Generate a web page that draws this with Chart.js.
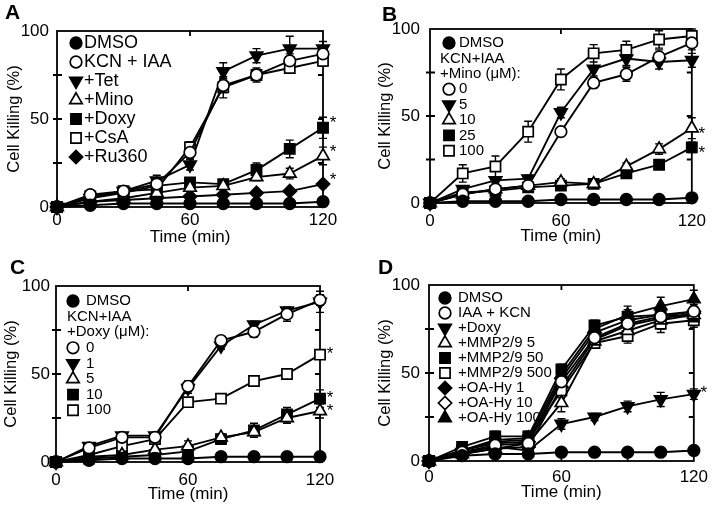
<!DOCTYPE html>
<html>
<head>
<meta charset="utf-8">
<script src="https://cdn.jsdelivr.net/npm/chart.js@4/dist/chart.umd.min.js"></script>
<style>
  body { margin: 0; background: #fff; }
  #wrap { position: relative; width: 714px; height: 511px; }
  #wrap canvas { position: absolute; }
</style>
</head>
<body>
<div id="wrap">
  <canvas id="cA" width="357" height="255" style="left:0;top:0"></canvas>
  <canvas id="cB" width="357" height="255" style="left:357px;top:0"></canvas>
  <canvas id="cC" width="357" height="256" style="left:0;top:255px"></canvas>
  <canvas id="cD" width="357" height="256" style="left:357px;top:255px"></canvas>
</div>
<script>
// time points (min)
const times = [0, 15, 30, 45, 60, 75, 90, 105, 120];
const xTicks = [0, 60, 120];
const yTicks = [0, 50, 100];

// A - inhibitors
const aNames = ['DMSO', 'KCN + IAA', '+Tet', '+Mino', '+Doxy', '+CsA', '+Ru360'];
const aDMSO  = [0, 1, 2, 2, 2, 2, 2, 2, 3];
const aKCN   = [0, 7, 9, 13, 31, 69, 75, 83, 87];
const aTet   = [0, 5, 9, 15, 24, 77, 86, 90, 90];
const aMino  = [0, 3, 5, 8, 11, 12, 17, 19, 29];
const aDoxy  = [0, 5, 8, 12, 14, 13, 21, 33, 45];
const aCsA   = [0, 6, 9, 10, 34, 68, 75, 79, 83];
const aRu360 = [0, 3, 4, 5, 6, 7, 8, 9, 13];
const aDMSOe  = [0, 1, 1, 1, 1, 1, 1, 1, 1];
const aKCNe   = [0, 1, 1, 2, 3, 4, 3, 4, 4];
const aTete   = [0, 2, 2, 3, 3, 5, 4, 7, 4];
const aMinoe  = [0, 1, 1, 1, 2, 1, 2, 3, 5];
const aDoxye  = [0, 1, 1, 2, 2, 1, 4, 5, 6];
const aCsAe   = [0, 1, 1, 2, 3, 6, 4, 3, 3];
const aRu360e = [0, 1, 1, 1, 1, 1, 1, 1, 2];

// B - minocycline dose
const bHead = ['KCN+IAA', '+Mino (\u03BCM):'];
const bNames = ['DMSO', '0', '5', '10', '25', '100'];
const bDMSO = [0, 1, 1, 1, 2, 2, 2, 2, 3];
const b0    = [0, 5, 8, 10, 41, 69, 74, 84, 92];
const b5    = [0, 8, 13, 14, 52, 77, 83, 81, 82];
const b10   = [0, 5, 8, 10, 12, 11, 21, 31, 43];
const b25   = [0, 6, 7, 9, 10, 11, 17, 22, 32];
const b100  = [0, 17, 21, 41, 71, 86, 88, 94, 96];
const bDMSOe = [0, 1, 1, 1, 1, 1, 1, 1, 1];
const b0e    = [0, 1, 2, 2, 2, 3, 4, 4, 4];
const b5e    = [0, 2, 2, 2, 3, 4, 4, 4, 4];
const b10e   = [0, 1, 1, 1, 2, 1, 2, 3, 6];
const b25e   = [0, 1, 1, 1, 1, 1, 1, 2, 3];
const b100e  = [0, 5, 6, 6, 6, 5, 5, 5, 4];

// C - doxycycline dose
const cHead = ['KCN+IAA', '+Doxy (\u03BCM):'];
const cNames = ['DMSO', '0', '1', '5', '10', '100'];
const cDMSO = [0, 1, 2, 2, 2, 3, 3, 3, 3];
const c0    = [0, 8, 14, 14, 43, 69, 74, 84, 92];
const c1    = [0, 9, 15, 15, 42, 66, 78, 86, 91];
const c5    = [0, 3, 4, 7, 9, 14, 17, 25, 29];
const c10   = [0, 2, 3, 4, 6, 13, 18, 27, 36];
const c100  = [0, 4, 9, 13, 34, 36, 46, 50, 61];
const cDMSOe = [0, 1, 1, 1, 1, 1, 1, 1, 1];
const c0e    = [0, 1, 1, 2, 3, 2, 3, 4, 3];
const c1e    = [0, 1, 1, 1, 3, 2, 2, 2, 6];
const c5e    = [0, 1, 1, 1, 3, 2, 2, 3, 4];
const c10e   = [0, 1, 1, 1, 2, 2, 4, 4, 5];
const c100e  = [0, 1, 1, 2, 2, 2, 2, 3, 2];

// D - MMP / OA-Hy inhibitors
const dNames = ['DMSO', 'IAA + KCN', '+Doxy', '+MMP2/9 5', '+MMP2/9 50', '+MMP2/9 500', '+OA-Hy 1', '+OA-Hy 10', '+OA-Hy 100'];
const dDMSO   = [0, 3, 4, 4, 5, 5, 5, 5, 6];
const dKCN    = [0, 5, 9, 10, 45, 70, 78, 82, 85];
const dDoxy   = [0, 5, 8, 6, 21, 25, 31, 35, 38];
const dMMP5   = [0, 4, 7, 10, 33, 68, 74, 80, 83];
const dMMP50  = [0, 8, 14, 14, 52, 77, 82, 83, 82];
const dMMP500 = [0, 6, 11, 12, 40, 67, 71, 78, 80];
const dOA1    = [0, 6, 10, 11, 47, 73, 80, 83, 85];
const dOA10   = [0, 4, 7, 8, 42, 69, 77, 81, 84];
const dOA100  = [0, 6, 12, 13, 49, 75, 83, 88, 92];
const dDMSOe   = [0, 1, 1, 1, 1, 1, 1, 1, 1];
const dKCNe    = [0, 2, 3, 3, 3, 3, 4, 5, 4];
const dDoxye   = [0, 2, 2, 2, 3, 2, 3, 4, 3];
const dMMP5e   = [0, 2, 3, 3, 5, 3, 4, 5, 4];
const dMMP50e  = [0, 2, 3, 3, 3, 3, 4, 4, 4];
const dMMP500e = [0, 2, 3, 3, 4, 3, 4, 5, 4];
const dOA1e    = [0, 2, 2, 3, 3, 3, 4, 4, 4];
const dOA10e   = [0, 2, 2, 3, 3, 3, 4, 4, 4];
const dOA100e  = [0, 2, 2, 3, 3, 3, 5, 5, 5];

const ink = '#000';
Chart.defaults.font.family = '"Liberation Sans", Arial, sans-serif';
Chart.defaults.color = ink;

const SHAPES = {
  circle:   { style: 'circle',   rot: 0,   r: 5.8, fill: ink },
  ocircle:  { style: 'circle',   rot: 0,   r: 5.8, fill: '#fff' },
  tri:      { style: 'triangle', rot: 0,   r: 7.2, fill: ink },
  otri:     { style: 'triangle', rot: 0,   r: 7.2, fill: '#fff' },
  dtri:     { style: 'triangle', rot: 180, r: 7.2, fill: ink },
  square:   { style: 'rect',     rot: 0,   r: 7.2, fill: ink },
  osquare:  { style: 'rect',     rot: 0,   r: 7.2, fill: '#fff' },
  diamond:  { style: 'rectRot',  rot: 0,   r: 6.6, fill: ink },
  odiamond: { style: 'rectRot',  rot: 0,   r: 6.6, fill: '#fff' }
};

function series(label, values, err, shape, star) {
  const s = SHAPES[shape];
  return {
    label: label,
    data: times.map((t, i) => ({ x: t, y: values[i] })),
    err: err,
    star: !!star,
    borderColor: ink,
    borderWidth: 1.9,
    backgroundColor: s.fill,
    pointStyle: s.style,
    pointRotation: s.rot,
    pointRadius: s.r,
    pointHoverRadius: s.r,
    pointBackgroundColor: s.fill,
    pointBorderColor: ink,
    pointBorderWidth: 1.7,
    tension: 0,
    clip: false
  };
}

// frame, inward ticks, error bars, asterisks, legend and panel letter
const panelPlugin = {
  id: 'panel',
  beforeDatasetsDraw(chart, args, o) {
    const { ctx, chartArea: a, scales: { x, y } } = chart;
    ctx.save();
    ctx.strokeStyle = ink;
    ctx.lineWidth = 1.8;
    ctx.strokeRect(a.left, a.top, a.right - a.left, a.bottom - a.top);
    ctx.beginPath();
    [25, 50, 75].forEach(v => {
      const py = y.getPixelForValue(v);
      ctx.moveTo(a.left - 4, py); ctx.lineTo(a.left + 5, py);
      ctx.moveTo(a.right - 5, py); ctx.lineTo(a.right, py);
    });
    const px60 = x.getPixelForValue(60);
    ctx.moveTo(px60, a.top); ctx.lineTo(px60, a.top + 5);
    [30, 60, 90].forEach(t => {
      const px = x.getPixelForValue(t);
      ctx.moveTo(px, a.bottom); ctx.lineTo(px, a.bottom - 5);
    });
    ctx.stroke();

    // error bars
    ctx.lineWidth = 1.4;
    ctx.beginPath();
    chart.data.datasets.forEach(ds => {
      if (!ds.err) return;
      ds.data.forEach((p, i) => {
        const e = ds.err[i];
        if (!e) return;
        const px = x.getPixelForValue(p.x);
        const hi = y.getPixelForValue(p.y + e);
        const lo = y.getPixelForValue(Math.max(0, p.y - e));
        ctx.moveTo(px, lo); ctx.lineTo(px, hi);
        ctx.moveTo(px - 4, hi); ctx.lineTo(px + 4, hi);
        ctx.moveTo(px - 4, lo); ctx.lineTo(px + 4, lo);
      });
    });
    ctx.stroke();
    ctx.restore();
  },
  afterDraw(chart, args, o) {
    const { ctx, scales: { x, y } } = chart;
    const ds = chart.data.datasets;
    ctx.save();
    ctx.fillStyle = ink;

    // asterisks beside last point
    ctx.font = '17px "Liberation Sans", Arial, sans-serif';
    ctx.textAlign = 'center';
    ctx.textBaseline = 'middle';
    ds.forEach(d => {
      if (!d.star) return;
      const p = d.data[d.data.length - 1];
      ctx.fillText('*', x.getPixelForValue(p.x) + 10, y.getPixelForValue(p.y) + o.starDy);
    });

    // legend
    const L = o.legend;
    ctx.font = L.size + 'px "Liberation Sans", Arial, sans-serif';
    ctx.textAlign = 'left';
    L.rows.forEach((row, k) => {
      const ry = L.y0 + k * L.dy;
      if (typeof row === 'string') {
        ctx.fillStyle = ink;
        ctx.fillText(row, L.headX, ry);
        return;
      }
      const d = ds[row];
      ctx.fillStyle = d.pointBackgroundColor;
      ctx.strokeStyle = ink;
      ctx.lineWidth = 1.7;
      Chart.helpers.drawPoint(ctx, {
        pointStyle: d.pointStyle, rotation: d.pointRotation,
        radius: d.pointRadius, borderWidth: 1.7
      }, L.markX, ry);
      ctx.fillStyle = ink;
      ctx.fillText(d.label, L.textX, ry);
    });

    // panel letter
    ctx.font = 'bold 21px "Liberation Sans", Arial, sans-serif';
    ctx.textBaseline = 'alphabetic';
    ctx.fillText(o.letter, o.letterX, o.letterY);
    ctx.restore();
  }
};

function makeChart(id, datasets, g) {
  const W = 357, H = document.getElementById(id).height;
  return new Chart(document.getElementById(id), {
    type: 'line',
    data: { datasets: datasets },
    plugins: [panelPlugin],
    options: {
      responsive: false,
      animation: false,
      events: [],
      layout: { padding: { left: 0, top: g.top, right: W - g.right, bottom: 0 } },
      scales: {
        x: {
          type: 'linear', min: 0, max: 120,
          afterFit: s => { s.height = H - g.bottom; },
          afterBuildTicks: s => { s.ticks = xTicks.map(v => ({ value: v })); },
          grid: { display: false, drawTicks: false },
          border: { display: false },
          ticks: { padding: g.xPad, font: { size: 17 }, color: ink },
          title: { display: true, text: 'Time (min)', font: { size: 17 }, color: ink,
                   padding: { top: 0, bottom: g.xTitle } }
        },
        y: {
          type: 'linear', min: 0, max: 100,
          afterFit: s => { s.width = g.left; },
          afterBuildTicks: s => { s.ticks = yTicks.map(v => ({ value: v })); },
          grid: { display: false, drawTicks: false },
          border: { display: false },
          ticks: { padding: g.yPad, font: { size: 17 }, color: ink },
          title: { display: true, text: 'Cell Killing (%)', font: { size: 16.5 }, color: ink,
                   padding: { top: g.yTitle, bottom: 0 } }
        }
      },
      plugins: {
        legend: { display: false },
        tooltip: { enabled: false },
        panel: g.panel
      }
    }
  });
}

makeChart('cA', [
  series(aNames[0], aDMSO, aDMSOe, 'circle'),
  series(aNames[1], aKCN, aKCNe, 'ocircle'),
  series(aNames[2], aTet, aTete, 'dtri'),
  series(aNames[3], aMino, aMinoe, 'otri', true),
  series(aNames[4], aDoxy, aDoxye, 'square', true),
  series(aNames[5], aCsA, aCsAe, 'osquare'),
  series(aNames[6], aRu360, aRu360e, 'diamond', true)
], {
  left: 57, right: 323, top: 31, bottom: 207, xPad: 3, yPad: 8, xTitle: 7, yTitle: 5,
  panel: {
    letter: 'A', letterX: 5, letterY: 19, starDy: -4,
    legend: { markX: 76, textX: 84, headX: 70, y0: 43, dy: 19, size: 18, rows: [0, 1, 2, 3, 4, 5, 6] }
  }
});

makeChart('cB', [
  series(bNames[0], bDMSO, bDMSOe, 'circle'),
  series(bNames[1], b0, b0e, 'ocircle'),
  series(bNames[2], b5, b5e, 'dtri'),
  series(bNames[3], b10, b10e, 'otri', true),
  series(bNames[4], b25, b25e, 'square', true),
  series(bNames[5], b100, b100e, 'osquare')
], {
  left: 73, right: 339, top: 29, bottom: 203, xPad: 8, yPad: 10, xTitle: 8, yTitle: 19,
  panel: {
    letter: 'B', letterX: 25, letterY: 21, starDy: 6,
    legend: { markX: 92, textX: 102, headX: 83, y0: 43, dy: 15.4, size: 15,
              rows: [0, bHead[0], bHead[1], 1, 2, 3, 4, 5] }
  }
});

makeChart('cC', [
  series(cNames[0], cDMSO, cDMSOe, 'circle'),
  series(cNames[1], c0, c0e, 'ocircle'),
  series(cNames[2], c1, c1e, 'dtri'),
  series(cNames[3], c5, c5e, 'otri', true),
  series(cNames[4], c10, c10e, 'square', true),
  series(cNames[5], c100, c100e, 'osquare', true)
], {
  left: 56, right: 320, top: 31, bottom: 207, xPad: 8, yPad: 6, xTitle: 6, yTitle: 2,
  panel: {
    letter: 'C', letterX: 10, letterY: 19, starDy: 0,
    legend: { markX: 73, textX: 86, headX: 67, y0: 46, dy: 15.6, size: 15,
              rows: [0, cHead[0], cHead[1], 1, 2, 3, 4, 5] }
  }
});

makeChart('cD', [
  series(dNames[0], dDMSO, dDMSOe, 'circle'),
  series(dNames[1], dKCN, dKCNe, 'ocircle'),
  series(dNames[2], dDoxy, dDoxye, 'dtri', true),
  series(dNames[3], dMMP5, dMMP5e, 'otri'),
  series(dNames[4], dMMP50, dMMP50e, 'square'),
  series(dNames[5], dMMP500, dMMP500e, 'osquare'),
  series(dNames[6], dOA1, dOA1e, 'diamond'),
  series(dNames[7], dOA10, dOA10e, 'odiamond'),
  series(dNames[8], dOA100, dOA100e, 'tri')
], {
  left: 72, right: 337, top: 30, bottom: 206, xPad: 6, yPad: 9, xTitle: 8, yTitle: 19,
  panel: {
    letter: 'D', letterX: 21, letterY: 19, starDy: -1,
    legend: { markX: 88, textX: 101, headX: 80, y0: 43, dy: 15, size: 15,
              rows: [0, 1, 2, 3, 4, 5, 6, 7, 8] }
  }
});
</script>
</body>
</html>
